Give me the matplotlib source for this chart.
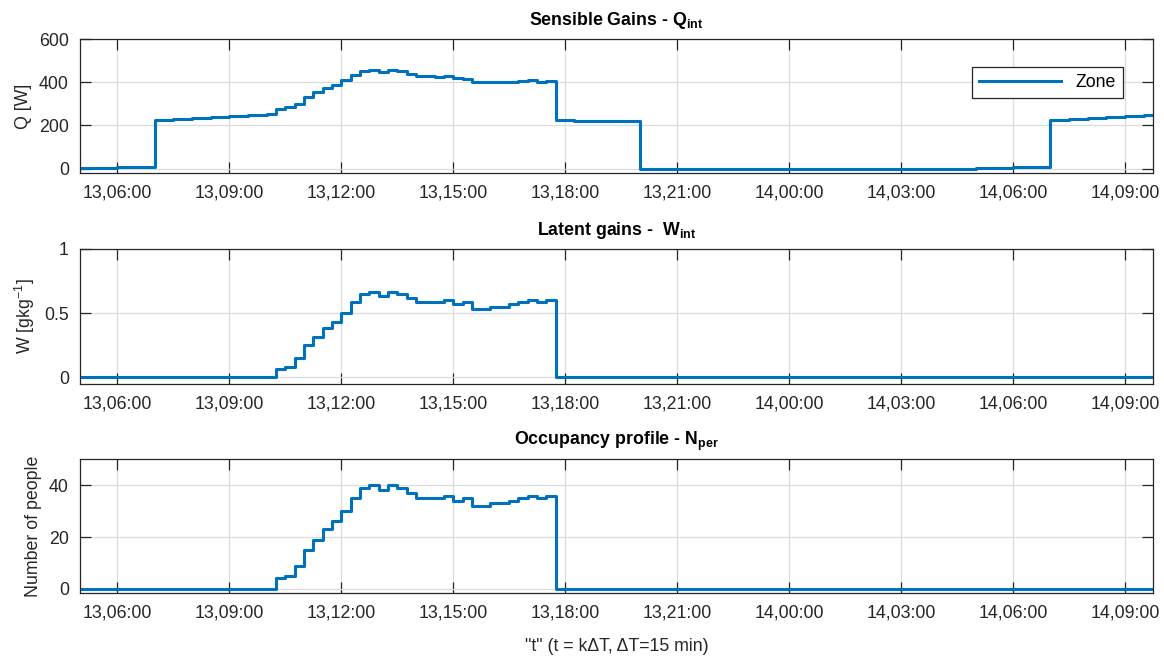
import numpy as np
import matplotlib
matplotlib.use("Agg")
import matplotlib.pyplot as plt

plt.rcParams['font.family'] = ['Liberation Sans', 'DejaVu Sans']
plt.rcParams['mathtext.fontset'] = 'custom'
plt.rcParams['mathtext.rm'] = 'Liberation Sans'
plt.rcParams['mathtext.bf'] = 'Liberation Sans:bold'

# time in hours from day 13, 00:00, step dT = 15 min (13,05:00 ... 14,09:45)
t = np.arange(5.0, 33.76, 0.25)

# sensible gains Q [W]
q_int = ([2, 3, 3, 4, 5, 6, 7, 8] +
         [223, 225, 228, 230, 232, 235, 237, 239, 242, 244, 247, 249, 252] +
         [276, 283, 300, 333, 355, 373, 388, 408, 433, 452, 456, 447, 456, 452, 438] +
         [430, 427, 426, 429, 418, 415, 403, 400, 400, 400, 403, 405, 408, 401, 405] +
         [223, 223, 222, 222, 222, 221, 221, 221, 220] +
         [0] * 36 +
         [2, 3, 3, 4, 5, 6, 7, 8] +
         [223, 225, 228, 230, 232, 235, 237, 239, 242, 244, 247, 249])

# occupancy
n_per = ([0] * 21 +
         [4, 5, 9, 15, 19, 23, 26, 30, 35, 39, 40, 38, 40, 39, 37,
          35, 35, 35, 36, 34, 35, 32, 32, 33, 33, 34, 35, 36, 35, 36] +
         [0] * 65)

# latent gains W [g/kg]
w_int = ([0] * 21 +
         [0.067, 0.083, 0.150, 0.250, 0.317, 0.383, 0.433, 0.500, 0.583, 0.650,
          0.667, 0.633, 0.667, 0.650, 0.617, 0.583, 0.583, 0.583, 0.600, 0.567,
          0.583, 0.533, 0.533, 0.550, 0.550, 0.567, 0.583, 0.600, 0.583, 0.600] +
         [0] * 65)

tick_pos = [6, 9, 12, 15, 18, 21, 24, 27, 30, 33]
tick_lab = ['13,06:00', '13,09:00', '13,12:00', '13,15:00', '13,18:00',
            '13,21:00', '14,00:00', '14,03:00', '14,06:00', '14,09:00']

blue = '#0072BD'
dark = '#262626'
fs = 12.8

fig = plt.figure(figsize=(11.64, 6.57), dpi=100)
L, W = 0.0687, 0.9218
ax1 = fig.add_axes([L, 0.7362, W, 0.2044])
ax2 = fig.add_axes([L, 0.4151, W, 0.2060])
ax3 = fig.add_axes([L, 0.0970, W, 0.2040])


def style(ax):
    ax.set_xlim(5.0, 33.75)
    ax.set_xticks(tick_pos)
    ax.set_xticklabels(tick_lab)
    ax.grid(True, color='#dcdcdc', lw=0.9)
    ax.set_axisbelow(True)
    ax.tick_params(direction='in', length=8, width=0.9, top=True, right=True,
                   labelsize=fs, colors=dark, pad=8)
    for s in ax.spines.values():
        s.set_color(dark)
        s.set_linewidth(0.9)


ax1.step(t, q_int, where='post', color=blue, lw=2.2, label='Zone')
style(ax1)
ax1.set_ylim(-22, 600)
ax1.set_yticks([0, 200, 400, 600])
ax1.set_ylabel('Q [W]', fontsize=fs, color=dark, labelpad=5)
ax1.set_title(r'Sensible Gains - $\mathbf{Q}_{\mathbf{int}}$', fontsize=fs,
              fontweight='bold', pad=10)
leg = ax1.legend(loc='upper right', bbox_to_anchor=(0.972, 0.793),
                 borderaxespad=0, fancybox=False, framealpha=1,
                 edgecolor=dark, fontsize=fs, handlelength=4.6,
                 borderpad=0.4)
leg.get_frame().set_linewidth(0.9)

ax2.step(t, w_int, where='post', color=blue, lw=2.2)
style(ax2)
ax2.set_ylim(-0.055, 1)
ax2.set_yticks([0, 0.5, 1])
ax2.set_yticklabels(['0', '0.5', '1'])
ax2.set_ylabel(r'W [gkg$^{-1}$]', fontsize=fs, color=dark, labelpad=5)
ax2.set_title(r'Latent gains -  $\mathbf{W}_{\mathbf{int}}$', fontsize=fs,
              fontweight='bold', pad=10)

ax3.step(t, n_per, where='post', color=blue, lw=2.2)
style(ax3)
ax3.set_ylim(-1.7, 50)
ax3.set_yticks([0, 20, 40])
ax3.set_ylabel('Number of people', fontsize=fs, color=dark, labelpad=5)
ax3.set_title(r'Occupancy profile - $\mathbf{N}_{\mathbf{per}}$', fontsize=fs,
              fontweight='bold', pad=10)
ax3.set_xlabel('"t" (t = k\u0394T, \u0394T=15 min)', fontsize=fs, color=dark,
               labelpad=12)

fig.savefig('out.png', dpi=100)
